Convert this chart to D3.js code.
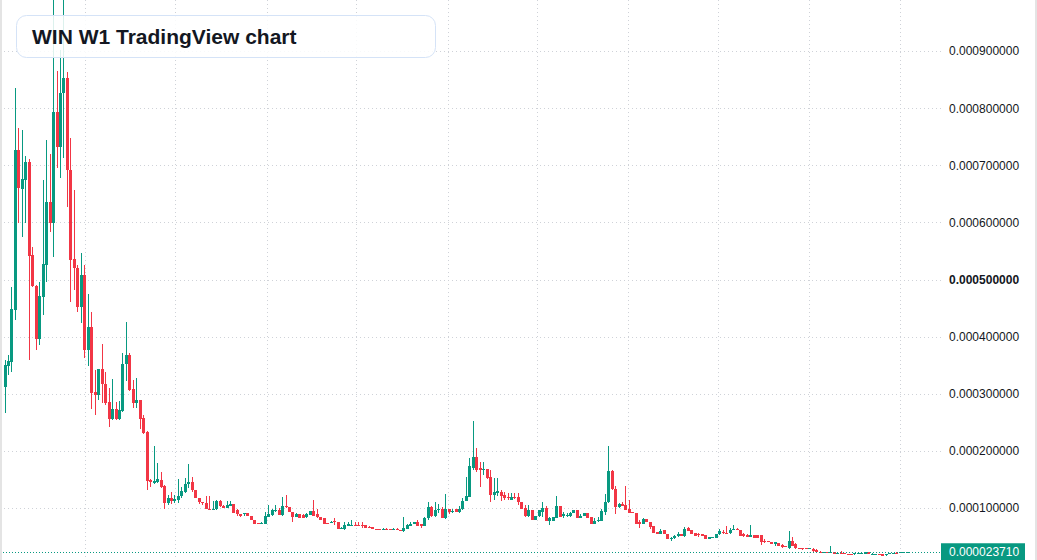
<!DOCTYPE html>
<html>
<head>
<meta charset="utf-8">
<script src="https://cdn.jsdelivr.net/npm/d3@7/dist/d3.min.js"></script>
<style>
	html, body { margin: 0; padding: 0; background: #fff; }
	svg { display: block; font-family: "Liberation Sans", Arial, sans-serif; }
</style>
</head>
<body>
<div id="chart"></div>
<script>
// WIN weekly candles, prices in millionths (x 1e-6)
const UNIT = 1e-6;
const firstWeek = new Date(2019, 6, 22);

const opens = [
	312,349,356,447,727,659,674,706,543,489, 396,470,526,636,599,793,732,827,853,692,
	536,520,452,508,377,417,303,298,344,317, 286,256,274,256,270,352,368,309,284,289,
	258,233,149,144,146,149,139,109,118,113, 114,121,128,142,146,132,117,111,109,99,
	97,98,113,104,101,104,107,97,89,89, 91,87,80,74,73,73,85,88,95,97,
	88,104,102,94,85,90,88,85,88,95, 89,85,82,74,74,77,76,63,63,69,
	70,71,71,71,71,67,67,64,64,61, 63,63,61,64,62,60,64,69,72,75,
	72,69,82,102,87,96,98,83,99,93, 98,93,98,113,120,171,190,170,167,169,
	155,123,126,129,123,119,114,120,119,111, 100,86,96,79,87,94,100,78,78,83,
	104,87,87,87,91,97,83,87,91,84, 73,78,78,94,110,165,134,102,107,105,
	99,93,92,75,73,81,75,68,59,55, 61,55,46,47,51,55,52,65,61,57,
	54,54,53,46,49,48,55,59,56,56, 62,64,62,54,53,50,53,53,53,43,
	42,41,37,39,35,33,30,43,37,31, 31,30,29,29,27,24,23,24,23,23,
	21,22,21,20,20,19,21,21,19,23, 19,19,20,19,18,19,21,22,22,23,
	23.3
];
const highs = [
	359,368,487,835,765,762,716,711,557,491, 496,674,744,720,1000,865,902,990,863,748,
	657,526,547,526,475,443,342,344,387,338, 310,326,286,288,372,426,372,324,328,289,
	263,235,151,209,179,163,141,123,128,123, 151,137,153,177,155,132,117,111,121,121,
	113,114,115,105,113,113,107,99,89,91, 91,87,80,74,76,93,106,98,106,100,
	120,123,102,94,92,90,90,91,95,115, 98,85,82,74,78,82,76,67,75,76,
	79,75,75,75,71,69,67,64,64,65, 65,63,66,66,62,85,73,75,76,79,
	73,85,111,103,110,107,102,125,99,98, 98,103,117,155,187,253,205,181,181,169,
	167,152,152,132,129,127,126,126,126,111, 106,106,97,87,97,111,104,84,84,121,
	104,93,91,94,97,97,90,91,91,84, 82,84,99,125,209,167,139,109,111,139,
	114,94,92,79,82,81,76,68,59,64, 61,55,50,53,58,55,67,67,61,57,
	56,54,53,50,50,55,63,62,69,65, 71,66,62,56,55,71,53,53,53,46,
	42,41,41,39,37,33,60,50,39,31, 31,30,31,30,28,25,24,24,33,23,
	23,25,21,20,20,22,23,22,23,23, 21,20,20,19,19,22,22,23,23,23.6,
	23.8
];
const lows = [
	267,333,338,429,599,575,599,359,487,377, 386,438,496,583,540,695,678,713,627,461,
	482,443,424,363,349,274,263,289,284,281, 242,254,254,254,268,323,305,275,275,239,
	230,132,137,142,144,135,99,106,107,109, 109,118,127,135,129,117,107,106,98,97,
	96,97,102,100,100,103,91,87,85,86, 87,80,73,73,72,72,85,87,94,88,
	86,100,94,76,84,82,82,83,88,86, 82,80,73,73,74,71,63,63,62,69,
	69,69,69,66,66,66,63,63,63,61, 61,61,61,62,60,59,64,68,72,68,
	65,68,79,85,84,91,82,81,89,91, 94,91,97,113,119,167,164,137,158,151,
	110,114,122,112,114,114,114,116,106,99, 85,85,79,79,85,85,78,71,78,82,
	84,83,85,85,91,83,83,87,83,73, 72,76,78,88,109,132,90,100,103,96,
	91,91,73,65,72,75,63,57,55,55, 55,46,43,46,50,52,50,60,55,52,
	50,52,46,46,49,48,53,55,55,55, 62,61,51,50,49,50,48,48,36,39,
	40,37,34,33,30,32,29,33,28,30, 26,29,28,24,22,22,23,23,23,19,
	20,21,20,19,19,18,21,21,19,19, 18,19,18,17,17,19,21,20,22,23,
	23.2
];
const closes = [
	351,357,449,727,660,676,706,541,489,396, 471,527,636,599,793,732,827,853,692,534,
	520,452,508,377,417,302,298,344,317,284, 256,274,256,272,352,368,307,284,289,256,
	232,148,146,148,151,137,109,118,113,116, 121,130,142,146,132,117,110,109,98,97,
	99,113,103,101,106,108,92,89,86,91, 87,80,73,73,74,87,90,96,97,88,
	103,102,94,84,90,83,82,89,95,87, 84,80,73,73,76,75,63,65,70,72,
	71,70,70,68,66,66,63,63,63,63, 62,61,64,62,60,65,71,73,75,69,
	68,83,102,86,97,98,83,99,94,95, 94,99,113,121,173,190,167,166,169,153,
	123,129,130,121,117,117,120,117,110,99, 86,96,79,87,97,100,78,82,84,104,
	84,89,88,91,97,83,87,91,83,73, 78,80,95,110,165,134,102,107,104,97,
	92,92,73,73,81,75,67,57,55,60, 55,46,48,52,54,52,64,60,55,52,
	53,52,46,50,50,55,60,56,55,62, 64,62,51,52,50,53,48,48,41,41,
	40,37,40,33,32,32,43,34,30,30, 29,29,30,25,23,23,24,23,24,19,
	22,21,20,19,19,21,22,22,23,19, 20,20,18,17,19,22,22,20,23,23.5,
	23.71
];

const lastPrice = 0.00002371;
const priceTicks = [0.0001,0.0002,0.0003,0.0004,0.0005,0.0006,0.0007,0.0008,0.0009];
const boldTick = 0.0005;
const chartTitle = 'WIN W1 TradingView chart';

const UP = '#089981', DOWN = '#f23645';

let full_width = 1037,
	full_height = 560,
	pane_width = 941;

let data = opens.map(function(o, i) {
	return {
		date: d3.timeWeek.offset(firstWeek, i),
		o: o * UNIT, h: highs[i] * UNIT, l: lows[i] * UNIT, c: closes[i] * UNIT
	};
});

let x = d3.scaleTime()
	.domain([data[0].date, data[data.length - 1].date])
	.range([4.5, 906.5]);

let y = d3.scaleLinear()
	.domain([0, 0.001])
	.range([565.3, -6.1]);

let svg = d3.select('#chart')
	.append('svg')
	.attr('width', full_width)
	.attr('height', full_height);

svg.append('rect')
	.attr('width', full_width).attr('height', full_height)
	.attr('fill', '#fff');

// grid
let grid = svg.append('g').attr('class', 'grid');

grid.selectAll('.hgrid')
	.data(priceTicks)
	.enter().append('line')
	.attr('x1', 0).attr('x2', pane_width)
	.attr('y1', function(d) { return Math.round(y(d)) + 0.5; })
	.attr('y2', function(d) { return Math.round(y(d)) + 0.5; })
	.attr('stroke', '#cfd2d8')
	.attr('stroke-dasharray', '1,3');

grid.selectAll('.vgrid')
	.data(x.ticks(d3.timeMonth.every(6)))
	.enter().append('line')
	.attr('x1', function(d) { return Math.round(x(d)) + 0.5; })
	.attr('x2', function(d) { return Math.round(x(d)) + 0.5; })
	.attr('y1', 0).attr('y2', full_height)
	.attr('stroke', '#cfd2d8')
	.attr('stroke-dasharray', '1,3');

// candles
let candles = svg.append('g')
	.attr('class', 'candles')
	.attr('shape-rendering', 'crispEdges');

let candle = candles.selectAll('.candle')
	.data(data)
	.enter().append('g')
	.attr('fill', function(d) { return d.c >= d.o ? UP : DOWN; });

candle.append('rect')
	.attr('x', function(d) { return Math.round(x(d.date)); })
	.attr('width', 1)
	.attr('y', function(d) { return y(d.h); })
	.attr('height', function(d) { return Math.max(1, y(d.l) - y(d.h)); });

candle.append('rect')
	.attr('x', function(d) { return Math.round(x(d.date)) - 1; })
	.attr('width', 3)
	.attr('y', function(d) { return y(Math.max(d.o, d.c)); })
	.attr('height', function(d) { return Math.max(1, Math.abs(y(d.o) - y(d.c))); });

// last price line
svg.append('line')
	.attr('x1', 0).attr('x2', pane_width)
	.attr('y1', Math.round(y(lastPrice)) + 0.5)
	.attr('y2', Math.round(y(lastPrice)) + 0.5)
	.attr('stroke', UP)
	.attr('stroke-dasharray', '1,2');

// price scale
let axis = svg.append('g').attr('class', 'price-axis');

axis.selectAll('text')
	.data(priceTicks)
	.enter().append('text')
	.attr('x', 949)
	.attr('y', function(d) { return y(d); })
	.attr('dy', '0.36em')
	.attr('font-size', 12)
	.attr('font-weight', function(d) { return d === boldTick ? 'bold' : 'normal'; })
	.attr('fill', '#131722')
	.text(d3.format('.9f'));

axis.append('rect')
	.attr('x', 941).attr('width', 84)
	.attr('y', y(lastPrice) - 8.5).attr('height', 17)
	.attr('fill', UP);

axis.append('text')
	.attr('x', 949)
	.attr('y', y(lastPrice))
	.attr('dy', '0.36em')
	.attr('font-size', 12)
	.attr('fill', '#fff')
	.text(d3.format('.9f')(lastPrice));

// borders
svg.append('rect').attr('x', 0).attr('y', 0).attr('width', 2).attr('height', full_height).attr('fill', '#e4e4e4');
svg.append('rect').attr('x', 1035).attr('y', 0).attr('width', 2).attr('height', full_height).attr('fill', '#e4e4e4');

// title box
svg.append('rect')
	.attr('x', 16.5).attr('y', 15.5)
	.attr('width', 419).attr('height', 42)
	.attr('rx', 10)
	.attr('fill', 'rgba(255,255,255,0.86)')
	.attr('stroke', '#d5e3f7');

svg.append('text')
	.attr('x', 32)
	.attr('y', 44)
	.attr('font-size', 21)
	.attr('font-weight', 'bold')
	.attr('fill', '#131722')
	.text(chartTitle);
</script>
</body>
</html>
